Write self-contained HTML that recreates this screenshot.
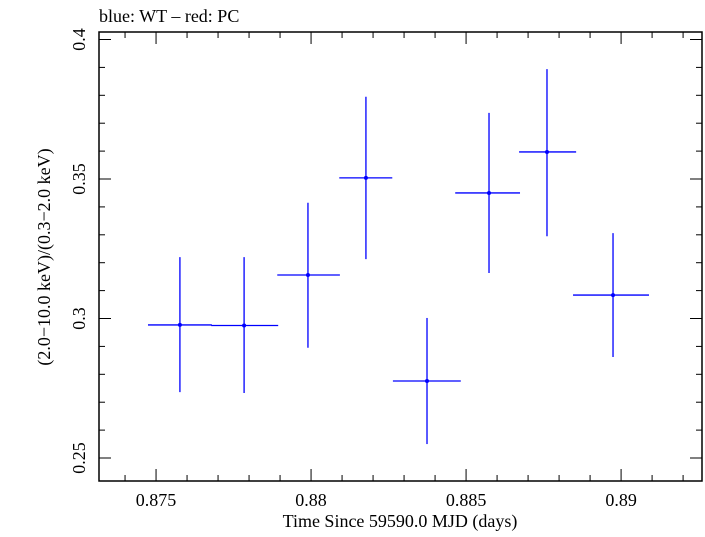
<!DOCTYPE html>
<html><head><meta charset="utf-8"><style>
body{margin:0;background:#fff}
svg text{font-family:"Liberation Serif",serif;fill:#000}
</style></head><body>
<svg id="c" width="705" height="532">
<text x="99" y="22" font-size="18">blue: WT – red: PC</text>
<text x="400" y="527" font-size="18" text-anchor="middle">Time Since 59590.0 MJD (days)</text>
<text transform="translate(50,257) rotate(-90)" font-size="18" text-anchor="middle">(2.0−10.0 keV)/(0.3−2.0 keV)</text>
</svg>
<script>
const times=[0.87577,0.87784,0.87990,0.88177,0.88374,0.88574,0.88761,0.88974];
const tLo=[0.87474,0.87678,0.87891,0.88091,0.88264,0.88465,0.88671,0.88845];
const tHi=[0.87680,0.87894,0.88093,0.88262,0.88483,0.88674,0.88855,0.89090];
const ratios=[0.2977,0.2975,0.3156,0.3504,0.2776,0.3450,0.3597,0.3084];
const rLo=[0.2736,0.2733,0.2895,0.3213,0.2550,0.3163,0.3295,0.2862];
const rHi=[0.3220,0.3220,0.3415,0.3795,0.3002,0.3737,0.3894,0.3306];
const xTicks=[0.875,0.88,0.885,0.89];
const xTickLabels=["0.875","0.88","0.885","0.89"];
const yTicks=[0.25,0.3,0.35,0.4];
const yTickLabels=["0.25","0.3","0.35","0.4"];
const L=99,R=702,T=32,B=481;
const xMin=0.87316,xMax=0.89261,yMin=0.24176,yMax=0.40269;
const X=v=>L+(v-xMin)/(xMax-xMin)*(R-L);
const Y=v=>B-(v-yMin)/(yMax-yMin)*(B-T);
const svg=document.getElementById('c');
const NS='http://www.w3.org/2000/svg';
function mk(tag,a){const e=document.createElementNS(NS,tag);for(const k in a)e.setAttribute(k,a[k]);svg.appendChild(e);return e;}
const frame=mk('rect',{x:L,y:T,width:R-L,height:B-T,fill:'none',stroke:'#000','stroke-width':1.5});


for(let i=0;i<=20;i++){const v=0.874+i*0.001;if(v<xMin||v>xMax)continue;const x=X(v);const major=Math.abs(v*200-Math.round(v*200))<1e-6;const len=major?12:6;
 const t1=mk('line',{x1:x,x2:x,y1:B,y2:B-len,stroke:'#000','stroke-width':1});
 
 
 const t2=mk('line',{x1:x,x2:x,y1:T,y2:T+len,stroke:'#000','stroke-width':1});
 
 }
for(let i=0;i<=20;i++){const v=0.25+i*0.01;if(v<yMin||v>yMax)continue;const y=Y(v);const major=i%5===0;const len=major?12:6;
 const t1=mk('line',{x1:L,x2:L+len,y1:y,y2:y,stroke:'#000','stroke-width':1});
 
 
 const t2=mk('line',{x1:R,x2:R-len,y1:y,y2:y,stroke:'#000','stroke-width':1});
 
 }
xTicks.forEach((v,i)=>{const t=mk('text',{x:X(v),y:B+25,'font-size':18,'text-anchor':'middle'});t.textContent=xTickLabels[i];
 
 });
yTicks.forEach((v,i)=>{const t=mk('text',{transform:`translate(${L-14},${Y(v)}) rotate(-90)`,'font-size':18,'text-anchor':'middle'});t.textContent=yTickLabels[i];
 
 });
times.forEach((t,i)=>{
 const h=mk('line',{x1:X(tLo[i]),x2:X(tHi[i]),y1:Y(ratios[i]),y2:Y(ratios[i]),stroke:'#0000ff','stroke-width':1.3});
 
 
 const v=mk('line',{x1:X(t),x2:X(t),y1:Y(rLo[i]),y2:Y(rHi[i]),stroke:'#0000ff','stroke-width':1.3});
 
 
 const p=mk('circle',{cx:X(t),cy:Y(ratios[i]),r:2,fill:'#0000ff'});
 
 
});
</script>
</body></html>
